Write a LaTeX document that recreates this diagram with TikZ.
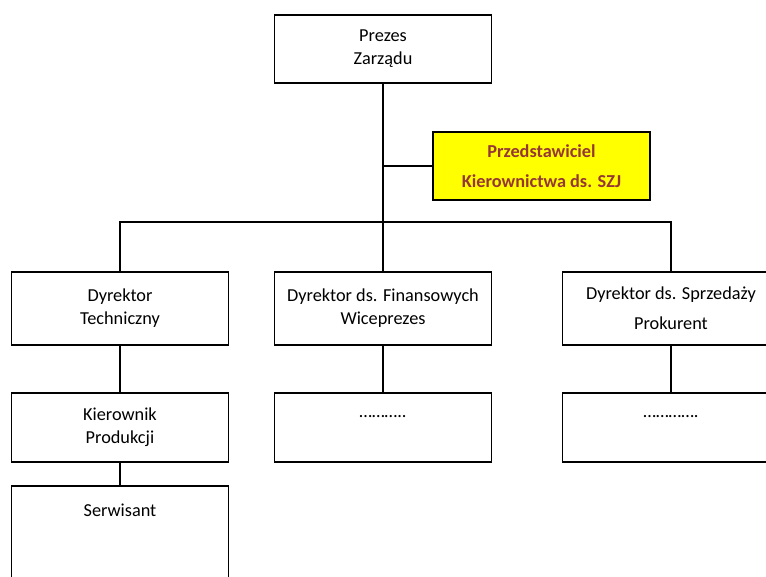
\documentclass[tikz,border=0pt]{standalone}
\usepackage{fontspec}
\setmainfont{Carlito}
\definecolor{szjred}{RGB}{149, 55, 53}
\definecolor{szjyellow}{RGB}{255, 255, 0}
\usetikzlibrary{positioning}
\newlength\pxl
\setlength\pxl{0.02cm}

\begin{document}
\begin{tikzpicture}[x=\pxl, y=-\pxl,
  obox/.style={draw=black, line width=1.1pt, fill=white, minimum width=217\pxl, minimum height=68\pxl, align=center, inner sep=0pt, font=\fontsize{10.4}{13.1}\selectfont},
  qbox/.style={obox, fill=szjyellow, text=szjred, font=\fontsize{10.4}{17}\selectfont\bfseries},
  conn/.style={draw=black, line width=0.9pt}
]
  \useasboundingbox (0,0) rectangle (766,576);
  \node[obox] (prezes) at (383, 49) {Prezes\\Zarządu};
  \node[qbox] (przed) at (541.5, 166) {Przedstawiciel\\Kierownictwa ds. SZJ};
  \node[obox, minimum height=73\pxl] (dtech) at (120, 308.5) {Dyrektor\\Techniczny};
  \node[obox, minimum height=73\pxl] (dfin) at (383, 308.5) {Dyrektor ds. Finansowych\\Wiceprezes};
  \node[obox, minimum height=73\pxl, font=\fontsize{10.4}{17}\selectfont] (dsprz) at (671, 308.5) {Dyrektor ds. Sprzedaży\\Prokurent};
  \node[obox, minimum height=69\pxl] (kprod) at (120, 427.5) {Kierownik\\Produkcji};
  \node[obox, minimum height=69\pxl] (dfin2) at (383, 427.5) {………..\\\mbox{}};
  \node[obox, minimum height=69\pxl] (dsprz2) at (671, 427.5) {………….\\\mbox{}};
  \node[obox, minimum height=110\pxl, text depth=62\pxl] (serw) at (120, 541) {Serwisant};
  \coordinate (busL) at (120, 222);
  \coordinate (busR) at (671, 222);
  % links
  \draw[conn] (prezes.south) -- (prezes.south |- busL);
  \draw[conn] (przed.west) -- (przed.west -| prezes.south);
  \draw[conn] (dtech.north) |- (busR) -- (dsprz.north);
  \draw[conn] (dfin.north) -- (dfin.north |- busL);
  \draw[conn] (dtech) -- (kprod);
  \draw[conn] (dfin) -- (dfin2);
  \draw[conn] (dsprz) -- (dsprz2);
  \draw[conn] (kprod) -- (serw);
\end{tikzpicture}
\end{document}
